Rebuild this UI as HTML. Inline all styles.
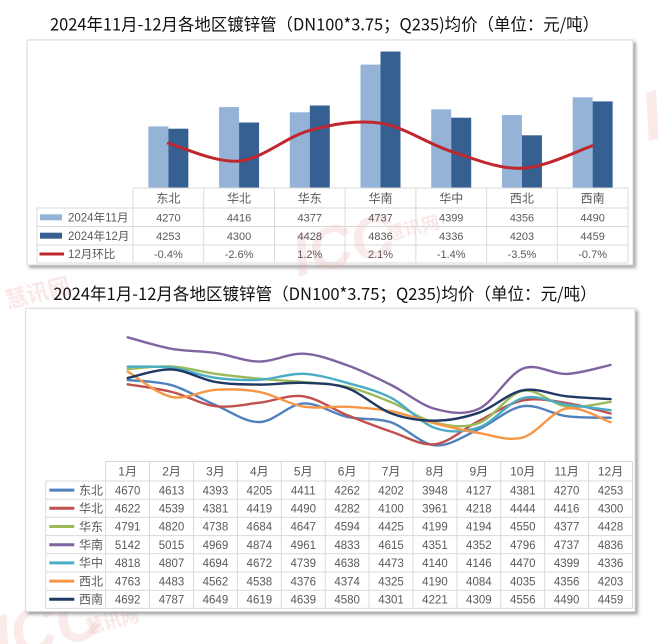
<!DOCTYPE html>
<html>
<head>
<meta charset="utf-8">
<style>
  html,body{margin:0;padding:0;background:#fff;}
  svg{display:block;}
  .t{font-family:"Liberation Sans","Noto Sans CJK SC",sans-serif;fill:#595959;}
  .title{font-family:"Noto Sans CJK SC","Liberation Sans",sans-serif;fill:#111;font-size:17px;}
</style>
</head>
<body>
<svg width="660" height="644" viewBox="0 0 660 644" xmlns="http://www.w3.org/2000/svg">
  <defs>
    <filter id="sh" x="-5%" y="-5%" width="110%" height="110%">
      <feDropShadow dx="2.5" dy="2.5" stdDeviation="1.5" flood-color="#7f7f7f" flood-opacity="0.7"/>
    </filter>
  </defs>
  <rect width="660" height="644" fill="#fff"/>

  <!-- ===== TOP TITLE ===== -->
  <text class="title" x="50" y="30.5" textLength="549" lengthAdjust="spacingAndGlyphs">2024年11月-12月各地区镀锌管（DN100*3.75；Q235)均价（单位：元/吨）</text>

  <!-- ===== TOP CHART BOX ===== -->
  <rect x="27" y="40" width="606" height="225" fill="#fff" stroke="#d9d9d9" stroke-width="1" filter="url(#sh)"/>

  <!-- watermarks (faint) -->
  <g fill="#e8a0a0" opacity="0.22" font-family="Liberation Sans, sans-serif" font-weight="bold" font-style="italic">
    <text x="290" y="268" font-size="60" transform="rotate(-14 330 240)">ICC</text>
    <text x="330" y="510" font-size="60" transform="rotate(-14 380 490)">ICC</text>
    <text x="-10" y="650" font-size="64" transform="rotate(-14 40 620)">ICC</text>
    <text x="640" y="140" font-size="70" transform="rotate(-14 650 110)">I</text>
  </g>
  <g fill="#e8a0a0" opacity="0.25" font-family="Noto Sans CJK SC, sans-serif" font-weight="bold">
    <text x="4" y="300" font-size="22" transform="rotate(-14 40 290)">慧讯网</text>
    <text x="385" y="235" font-size="18" transform="rotate(-14 410 225)">慧讯网</text>
    <text x="420" y="488" font-size="18" transform="rotate(-14 450 478)">慧讯网</text>
    <text x="85" y="628" font-size="18" transform="rotate(-14 110 620)">慧讯网</text>
  </g>

  <!-- bars: 11月 light -->
  <g fill="#95b3d7">
    <rect x="148.36" y="126.4" width="20" height="61.6"/>
    <rect x="219.07" y="107.1" width="20" height="80.9"/>
    <rect x="289.79" y="112.3" width="20" height="75.7"/>
    <rect x="360.5"  y="64.6"  width="20" height="123.4"/>
    <rect x="431.21" y="109.4" width="20" height="78.6"/>
    <rect x="501.93" y="115.05" width="20" height="72.95"/>
    <rect x="572.64" y="97.3"  width="20" height="90.7"/>
  </g>
  <!-- bars: 12月 dark -->
  <g fill="#366092">
    <rect x="168.36" y="128.7" width="20" height="59.3"/>
    <rect x="239.07" y="122.5" width="20" height="65.5"/>
    <rect x="309.79" y="105.5" width="20" height="82.5"/>
    <rect x="380.5"  y="51.5"  width="20" height="136.5"/>
    <rect x="451.21" y="117.7" width="20" height="70.3"/>
    <rect x="521.93" y="135.3" width="20" height="52.7"/>
    <rect x="592.64" y="101.4" width="20" height="86.6"/>
  </g>
  <!-- red 环比 line -->
  <path d="M168.36,143.3 C180.15,146.27 215.5,163.25 239.07,161.1 S286.23,136.72 309.8,130.4 S356.93,119.7 380.5,123.2 S427.63,143.88 451.2,151.4 S498.33,169.25 521.9,168.3 S580.81,149.47 592.6,145.7" fill="none" stroke="#c0262d" stroke-width="3" stroke-linecap="round"/>

  <!-- top table grid -->
  <g stroke="#d9d9d9" stroke-width="1" fill="none">
    <line x1="133" y1="188" x2="628" y2="188"/>
    <line x1="37" y1="208" x2="628" y2="208"/>
    <line x1="37" y1="226.5" x2="628" y2="226.5"/>
    <line x1="37" y1="245" x2="628" y2="245"/>
    <line x1="37" y1="263" x2="628" y2="263"/>
    <line x1="37" y1="208" x2="37" y2="263"/>
    <line x1="133" y1="188" x2="133" y2="263"/>
    <line x1="203.71" y1="188" x2="203.71" y2="263"/>
    <line x1="274.43" y1="188" x2="274.43" y2="263"/>
    <line x1="345.14" y1="188" x2="345.14" y2="263"/>
    <line x1="415.86" y1="188" x2="415.86" y2="263"/>
    <line x1="486.57" y1="188" x2="486.57" y2="263"/>
    <line x1="557.29" y1="188" x2="557.29" y2="263"/>
    <line x1="628" y1="188" x2="628" y2="263"/>
  </g>
  <!-- top table legend -->
  <rect x="40" y="214.3" width="22" height="6" fill="#95b3d7"/>
  <rect x="40" y="232.7" width="22" height="6" fill="#366092"/>
  <line x1="39.5" y1="254" x2="64" y2="254" stroke="#c0262d" stroke-width="3"/>
  <g class="t" font-size="11.5">
    <text x="68" y="221.6">2024年11月</text>
    <text x="68" y="240">2024年12月</text>
    <text x="68" y="258.2">12月环比</text>
  </g>
  <!-- top table header & values -->
  <g class="t" font-size="12" text-anchor="middle">
    <text x="168.36" y="202.5">东北</text>
    <text x="239.07" y="202.5">华北</text>
    <text x="309.79" y="202.5">华东</text>
    <text x="380.5" y="202.5">华南</text>
    <text x="451.21" y="202.5">华中</text>
    <text x="521.93" y="202.5">西北</text>
    <text x="592.64" y="202.5">西南</text>
  </g>
  <g class="t" font-size="11" text-anchor="middle">
    <text x="168.36" y="221.5">4270</text>
    <text x="239.07" y="221.5">4416</text>
    <text x="309.79" y="221.5">4377</text>
    <text x="380.5" y="221.5">4737</text>
    <text x="451.21" y="221.5">4399</text>
    <text x="521.93" y="221.5">4356</text>
    <text x="592.64" y="221.5">4490</text>

    <text x="168.36" y="239.9">4253</text>
    <text x="239.07" y="239.9">4300</text>
    <text x="309.79" y="239.9">4428</text>
    <text x="380.5" y="239.9">4836</text>
    <text x="451.21" y="239.9">4336</text>
    <text x="521.93" y="239.9">4203</text>
    <text x="592.64" y="239.9">4459</text>

    <text x="168.36" y="258.2">-0.4%</text>
    <text x="239.07" y="258.2">-2.6%</text>
    <text x="309.79" y="258.2">1.2%</text>
    <text x="380.5" y="258.2">2.1%</text>
    <text x="451.21" y="258.2">-1.4%</text>
    <text x="521.93" y="258.2">-3.5%</text>
    <text x="592.64" y="258.2">-0.7%</text>
  </g>

  <!-- ===== BOTTOM TITLE ===== -->
  <text class="title" x="53.3" y="300" textLength="543.4" lengthAdjust="spacingAndGlyphs">2024年1月-12月各地区镀锌管（DN100*3.75；Q235)均价（单位：元/吨）</text>

  <!-- ===== BOTTOM CHART BOX ===== -->
  <rect x="25.7" y="308.3" width="609.3" height="303.2" fill="#fff" stroke="#d9d9d9" stroke-width="1" filter="url(#sh)"/>

  <!-- lines -->
  <g fill="none" stroke-width="2.4" stroke-linecap="round" stroke-linejoin="round">
    <!-- 东北 -->
    <path stroke="#4f81bd" d="M127.7,380.02 C135.02,380.88 156.97,380.99 171.6,385.17 S200.87,398.92 215.5,405.08 S244.77,422.37 259.4,422.1 S288.67,404.31 303.3,403.45 S332.57,413.79 347.2,416.94 S376.47,417.63 391.1,422.37 S420.37,444.23 435,445.36 S464.27,435.69 478.9,429.16 S508.17,408.33 522.8,406.17 S552.07,414.28 566.7,416.21 S603.28,417.49 610.6,417.75"/>
    <!-- 华北 -->
    <path stroke="#c0504d" d="M127.7,384.36 C135.02,385.61 156.97,388.23 171.6,391.87 S200.87,404.36 215.5,406.17 S244.77,404.38 259.4,402.73 S288.67,394.23 303.3,396.3 S332.57,409.25 347.2,415.13 S376.47,426.76 391.1,431.6 S420.37,445.96 435,444.18 S464.27,428.21 478.9,420.92 S508.17,403.46 522.8,400.47 S552.07,400.83 566.7,403 S603.28,411.75 610.6,413.5"/>
    <!-- 华东 -->
    <path stroke="#9bbb59" d="M127.7,369.06 C135.02,368.62 156.97,365.64 171.6,366.44 S200.87,371.81 215.5,373.86 S244.77,377.38 259.4,378.75 S288.67,380.74 303.3,382.1 S332.57,383.54 347.2,386.89 S376.47,396.23 391.1,402.19 S420.37,419.16 435,422.64 S464.27,428.39 478.9,423.09 S508.17,393.63 522.8,390.87 S552.07,404.69 566.7,406.53 S603.28,402.69 610.6,401.92"/>
    <!-- 华南 -->
    <path stroke="#8064a2" d="M127.7,337.3 C135.02,339.22 156.97,346.18 171.6,348.79 S200.87,350.83 215.5,352.96 S244.77,361.43 259.4,361.55 S288.67,353.06 303.3,353.68 S332.57,360.04 347.2,365.26 S376.47,377.72 391.1,384.99 S420.37,404.91 435,408.88 S464.27,415.5 478.9,408.79 S508.17,374.42 522.8,368.61 S552.07,374.55 566.7,373.95 S603.28,366.48 610.6,364.99"/>
    <!-- 华中 -->
    <path stroke="#4bacc6" d="M127.7,366.62 C135.02,366.79 156.97,365.75 171.6,367.62 S200.87,375.8 215.5,377.84 S244.77,380.51 259.4,379.83 S288.67,373.26 303.3,373.77 S332.57,378.9 347.2,382.91 S376.47,390.33 391.1,397.84 S420.37,423.05 435,427.98 S464.27,432.42 478.9,427.44 S508.17,401.93 522.8,398.11 S552.07,402.52 566.7,404.54 S603.28,409.29 610.6,410.24"/>
    <!-- 西北 -->
    <path stroke="#f79646" d="M127.7,371.6 C135.02,375.82 156.97,393.91 171.6,396.94 S200.87,390.62 215.5,389.79 S244.77,389.15 259.4,391.96 S288.67,404.15 303.3,406.62 S332.57,406.03 347.2,406.8 S376.47,408.46 391.1,411.24 S420.37,419.81 435,423.45 S464.27,430.71 478.9,433.05 S508.17,441.58 522.8,437.48 S552.07,410.96 566.7,408.43 S603.28,419.97 610.6,422.28"/>
    <!-- 西南 -->
    <path stroke="#1f3864" d="M127.7,378.02 C135.02,376.59 156.97,368.78 171.6,369.43 S200.87,379.39 215.5,381.92 S244.77,384.48 259.4,384.63 S288.67,382.23 303.3,382.82 S332.57,383.06 347.2,388.16 S376.47,407.99 391.1,413.41 S420.37,420.77 435,420.65 S464.27,417.74 478.9,412.69 S508.17,393.06 522.8,390.33 S552.07,394.84 566.7,396.3 S603.28,398.64 610.6,399.11"/>
  </g>

  <!-- bottom table grid -->
  <g stroke="#d9d9d9" stroke-width="1" fill="none">
    <line x1="105.7" y1="461.5" x2="632.5" y2="461.5"/>
    <line x1="45.7" y1="481" x2="632.5" y2="481"/>
    <line x1="45.7" y1="499.2" x2="632.5" y2="499.2"/>
    <line x1="45.7" y1="517.4" x2="632.5" y2="517.4"/>
    <line x1="45.7" y1="535.6" x2="632.5" y2="535.6"/>
    <line x1="45.7" y1="553.8" x2="632.5" y2="553.8"/>
    <line x1="45.7" y1="572" x2="632.5" y2="572"/>
    <line x1="45.7" y1="590.2" x2="632.5" y2="590.2"/>
    <line x1="45.7" y1="608.4" x2="632.5" y2="608.4"/>
    <line x1="45.7" y1="481" x2="45.7" y2="608.4"/>
    <line x1="105.7" y1="461.5" x2="105.7" y2="608.4"/>
    <line x1="149.6" y1="461.5" x2="149.6" y2="608.4"/>
    <line x1="193.5" y1="461.5" x2="193.5" y2="608.4"/>
    <line x1="237.4" y1="461.5" x2="237.4" y2="608.4"/>
    <line x1="281.3" y1="461.5" x2="281.3" y2="608.4"/>
    <line x1="325.2" y1="461.5" x2="325.2" y2="608.4"/>
    <line x1="369.1" y1="461.5" x2="369.1" y2="608.4"/>
    <line x1="413" y1="461.5" x2="413" y2="608.4"/>
    <line x1="456.9" y1="461.5" x2="456.9" y2="608.4"/>
    <line x1="500.8" y1="461.5" x2="500.8" y2="608.4"/>
    <line x1="544.7" y1="461.5" x2="544.7" y2="608.4"/>
    <line x1="588.6" y1="461.5" x2="588.6" y2="608.4"/>
    <line x1="632.5" y1="461.5" x2="632.5" y2="608.4"/>
  </g>

  <!-- bottom legend -->
  <g stroke-width="3" stroke-linecap="butt">
    <line x1="49.3" y1="490.1" x2="74.3" y2="490.1" stroke="#4f81bd"/>
    <line x1="49.3" y1="508.3" x2="74.3" y2="508.3" stroke="#c0504d"/>
    <line x1="49.3" y1="526.5" x2="74.3" y2="526.5" stroke="#9bbb59"/>
    <line x1="49.3" y1="544.7" x2="74.3" y2="544.7" stroke="#8064a2"/>
    <line x1="49.3" y1="562.9" x2="74.3" y2="562.9" stroke="#4bacc6"/>
    <line x1="49.3" y1="581.1" x2="74.3" y2="581.1" stroke="#f79646"/>
    <line x1="49.3" y1="599.3" x2="74.3" y2="599.3" stroke="#1f3864"/>
  </g>
  <g class="t" font-size="12">
    <text x="79" y="494.4">东北</text>
    <text x="79" y="512.6">华北</text>
    <text x="79" y="530.8">华东</text>
    <text x="79" y="549">华南</text>
    <text x="79" y="567.2">华中</text>
    <text x="79" y="585.4">西北</text>
    <text x="79" y="603.6">西南</text>
  </g>

  <!-- bottom header -->
  <g class="t" font-size="12" text-anchor="middle">
    <text x="127.65" y="475.5">1月</text>
    <text x="171.55" y="475.5">2月</text>
    <text x="215.45" y="475.5">3月</text>
    <text x="259.35" y="475.5">4月</text>
    <text x="303.25" y="475.5">5月</text>
    <text x="347.15" y="475.5">6月</text>
    <text x="391.05" y="475.5">7月</text>
    <text x="434.95" y="475.5">8月</text>
    <text x="478.85" y="475.5">9月</text>
    <text x="522.75" y="475.5">10月</text>
    <text x="566.65" y="475.5">11月</text>
    <text x="610.55" y="475.5">12月</text>
  </g>

  <!-- bottom values -->
  <g class="t" font-size="11.5" text-anchor="middle">
    <!-- 东北 -->
    <text x="127.65" y="494.3">4670</text><text x="171.55" y="494.3">4613</text><text x="215.45" y="494.3">4393</text><text x="259.35" y="494.3">4205</text><text x="303.25" y="494.3">4411</text><text x="347.15" y="494.3">4262</text><text x="391.05" y="494.3">4202</text><text x="434.95" y="494.3">3948</text><text x="478.85" y="494.3">4127</text><text x="522.75" y="494.3">4381</text><text x="566.65" y="494.3">4270</text><text x="610.55" y="494.3">4253</text>
    <!-- 华北 -->
    <text x="127.65" y="512.5">4622</text><text x="171.55" y="512.5">4539</text><text x="215.45" y="512.5">4381</text><text x="259.35" y="512.5">4419</text><text x="303.25" y="512.5">4490</text><text x="347.15" y="512.5">4282</text><text x="391.05" y="512.5">4100</text><text x="434.95" y="512.5">3961</text><text x="478.85" y="512.5">4218</text><text x="522.75" y="512.5">4444</text><text x="566.65" y="512.5">4416</text><text x="610.55" y="512.5">4300</text>
    <!-- 华东 -->
    <text x="127.65" y="530.7">4791</text><text x="171.55" y="530.7">4820</text><text x="215.45" y="530.7">4738</text><text x="259.35" y="530.7">4684</text><text x="303.25" y="530.7">4647</text><text x="347.15" y="530.7">4594</text><text x="391.05" y="530.7">4425</text><text x="434.95" y="530.7">4199</text><text x="478.85" y="530.7">4194</text><text x="522.75" y="530.7">4550</text><text x="566.65" y="530.7">4377</text><text x="610.55" y="530.7">4428</text>
    <!-- 华南 -->
    <text x="127.65" y="548.9">5142</text><text x="171.55" y="548.9">5015</text><text x="215.45" y="548.9">4969</text><text x="259.35" y="548.9">4874</text><text x="303.25" y="548.9">4961</text><text x="347.15" y="548.9">4833</text><text x="391.05" y="548.9">4615</text><text x="434.95" y="548.9">4351</text><text x="478.85" y="548.9">4352</text><text x="522.75" y="548.9">4796</text><text x="566.65" y="548.9">4737</text><text x="610.55" y="548.9">4836</text>
    <!-- 华中 -->
    <text x="127.65" y="567.1">4818</text><text x="171.55" y="567.1">4807</text><text x="215.45" y="567.1">4694</text><text x="259.35" y="567.1">4672</text><text x="303.25" y="567.1">4739</text><text x="347.15" y="567.1">4638</text><text x="391.05" y="567.1">4473</text><text x="434.95" y="567.1">4140</text><text x="478.85" y="567.1">4146</text><text x="522.75" y="567.1">4470</text><text x="566.65" y="567.1">4399</text><text x="610.55" y="567.1">4336</text>
    <!-- 西北 -->
    <text x="127.65" y="585.3">4763</text><text x="171.55" y="585.3">4483</text><text x="215.45" y="585.3">4562</text><text x="259.35" y="585.3">4538</text><text x="303.25" y="585.3">4376</text><text x="347.15" y="585.3">4374</text><text x="391.05" y="585.3">4325</text><text x="434.95" y="585.3">4190</text><text x="478.85" y="585.3">4084</text><text x="522.75" y="585.3">4035</text><text x="566.65" y="585.3">4356</text><text x="610.55" y="585.3">4203</text>
    <!-- 西南 -->
    <text x="127.65" y="603.5">4692</text><text x="171.55" y="603.5">4787</text><text x="215.45" y="603.5">4649</text><text x="259.35" y="603.5">4619</text><text x="303.25" y="603.5">4639</text><text x="347.15" y="603.5">4580</text><text x="391.05" y="603.5">4301</text><text x="434.95" y="603.5">4221</text><text x="478.85" y="603.5">4309</text><text x="522.75" y="603.5">4556</text><text x="566.65" y="603.5">4490</text><text x="610.55" y="603.5">4459</text>
  </g>
</svg>
</body>
</html>
